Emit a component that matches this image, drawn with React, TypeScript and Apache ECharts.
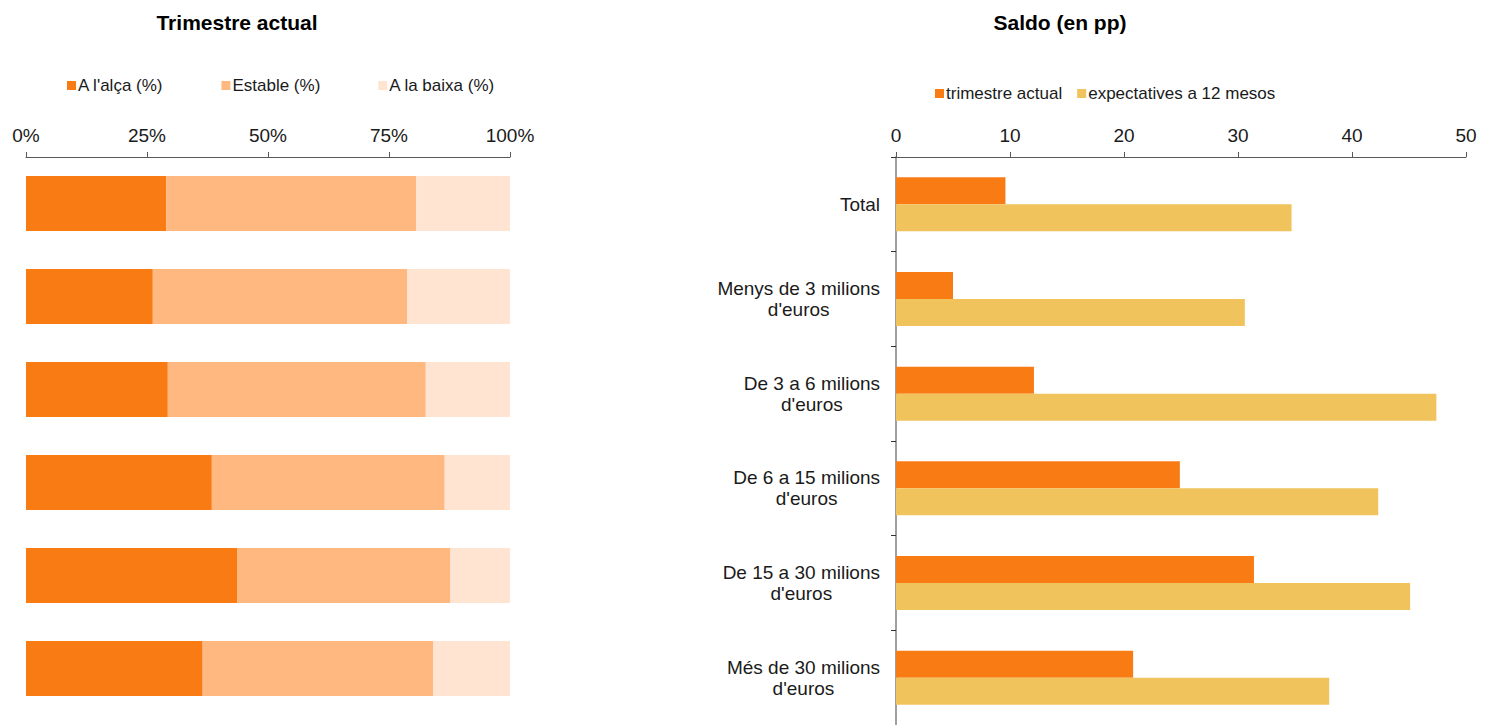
import React, { useEffect, useRef } from "react";
import * as echarts from "echarts";

const categories = [
  "Total",
  "Menys de 3 milions\nd'euros",
  "De 3 a 6 milions\nd'euros",
  "De 6 a 15 milions\nd'euros",
  "De 15 a 30 milions\nd'euros",
  "Més de 30 milions\nd'euros",
];

const stackNames = ["A l'alça (%)", "Estable (%)", "A la baixa (%)"];
const alca = [29.0, 26.2, 29.3, 38.4, 43.7, 36.5];
const estable = [51.6, 52.6, 53.3, 48.1, 44.0, 47.6];
const baixa = [19.4, 21.2, 17.4, 13.5, 12.3, 15.9];

const saldoNames = ["trimestre actual", "expectatives a 12 mesos"];
const trimestre = [9.6, 5.0, 12.1, 24.9, 31.4, 20.8];
const expectatives = [34.7, 30.6, 47.4, 42.3, 45.1, 38.0];

const leftTitle = "Trimestre actual";
const rightTitle = "Saldo (en pp)";

const FONT = "'Liberation Sans', Arial, sans-serif";
const ORANGE = "#F87B14";
const LIGHT = "#FFB880";
const PALE = "#FEE4D1";
const YELLOW = "#F0C35C";
const TXT = "#1a1a1a";

export default function App() {
  const ref = useRef<HTMLDivElement>(null);
  useEffect(() => {
    if (!ref.current) return;
    const chart = echarts.init(ref.current, undefined, { renderer: "svg" });
    const option: any = {
      animation: false,
      backgroundColor: "#ffffff",
      textStyle: { fontFamily: FONT, color: TXT },
      graphic: [
        {
          type: "text",
          x: 237,
          y: 22,
          style: {
            text: leftTitle,
            textAlign: "center",
            textVerticalAlign: "middle",
            font: `bold 21px ${FONT}`,
            fill: "#000",
          },
        },
        {
          type: "text",
          x: 1060,
          y: 22,
          style: {
            text: rightTitle,
            textAlign: "center",
            textVerticalAlign: "middle",
            font: `bold 21px ${FONT}`,
            fill: "#000",
          },
        },
      ],
      legend: [
        {
          left: 62,
          top: 72,
          itemWidth: 9,
          itemHeight: 9,
          itemGap: 58,
          icon: "rect",
          data: stackNames,
          textStyle: { fontSize: 17, fontFamily: FONT, color: TXT, padding: [0, 0, 0, -3] },
        },
        {
          left: 930,
          top: 80,
          itemWidth: 9,
          itemHeight: 9,
          itemGap: 15,
          icon: "rect",
          data: saldoNames,
          textStyle: { fontSize: 17, fontFamily: FONT, color: TXT, padding: [0, 0, 0, -3] },
        },
      ],
      grid: [
        { left: 26, top: 157, width: 484, height: 558, containLabel: false },
        { left: 896, top: 157, width: 570, height: 572, containLabel: false },
      ],
      xAxis: [
        {
          gridIndex: 0,
          type: "value",
          position: "top",
          min: 0,
          max: 100,
          interval: 25,
          splitLine: { show: false },
          axisLine: { show: true, lineStyle: { color: "#595959", width: 1 } },
          axisTick: { show: true, length: 5, lineStyle: { color: "#595959" } },
          axisLabel: {
            formatter: "{value}%",
            fontSize: 19,
            fontFamily: FONT,
            color: TXT,
            margin: 12,
          },
        },
        {
          gridIndex: 1,
          type: "value",
          position: "top",
          min: 0,
          max: 50,
          interval: 10,
          splitLine: { show: false },
          axisLine: { show: true, lineStyle: { color: "#595959", width: 1 } },
          axisTick: { show: true, length: 5, lineStyle: { color: "#595959" } },
          axisLabel: { fontSize: 19, fontFamily: FONT, color: TXT, margin: 12 },
        },
      ],
      yAxis: [
        {
          gridIndex: 0,
          type: "category",
          inverse: true,
          data: categories,
          axisLine: { show: false },
          axisTick: { show: false },
          axisLabel: { show: false },
        },
        {
          gridIndex: 1,
          type: "category",
          inverse: true,
          data: categories,
          axisLine: { show: true, lineStyle: { color: "#808080", width: 1.5 } },
          axisTick: { show: true, length: 5, lineStyle: { color: "#333" } },
          axisLabel: {
            fontSize: 19,
            fontFamily: FONT,
            color: TXT,
            margin: 16,
            lineHeight: 21,
            align: "right",
            formatter: (v: string) =>
              v
                .split("\n")
                .map((s) => `{c|${s}}`)
                .join("\n"),
            rich: {
              c: {
                align: "center",
                fontSize: 19,
                fontFamily: FONT,
                color: TXT,
                lineHeight: 21,
              },
            },
          },
        },
      ],
      series: [
        {
          name: stackNames[0],
          type: "bar",
          stack: "t",
          xAxisIndex: 0,
          yAxisIndex: 0,
          barWidth: 55,
          itemStyle: { color: ORANGE },
          data: alca,
        },
        {
          name: stackNames[1],
          type: "bar",
          stack: "t",
          xAxisIndex: 0,
          yAxisIndex: 0,
          barWidth: 55,
          itemStyle: { color: LIGHT },
          data: estable,
        },
        {
          name: stackNames[2],
          type: "bar",
          stack: "t",
          xAxisIndex: 0,
          yAxisIndex: 0,
          barWidth: 55,
          itemStyle: { color: PALE },
          data: baixa,
        },
        {
          name: saldoNames[0],
          type: "bar",
          xAxisIndex: 1,
          yAxisIndex: 1,
          barWidth: 27,
          barGap: "0%",
          itemStyle: { color: ORANGE },
          data: trimestre,
        },
        {
          name: saldoNames[1],
          type: "bar",
          xAxisIndex: 1,
          yAxisIndex: 1,
          barWidth: 27,
          barGap: "0%",
          itemStyle: { color: YELLOW },
          data: expectatives,
        },
      ],
    };
    chart.setOption(option);
    return () => chart.dispose();
  }, []);
  return (
    <div
      ref={ref}
      style={{ position: "fixed", left: 0, top: 0, width: 1493, height: 725, background: "#fff" }}
    />
  );
}
